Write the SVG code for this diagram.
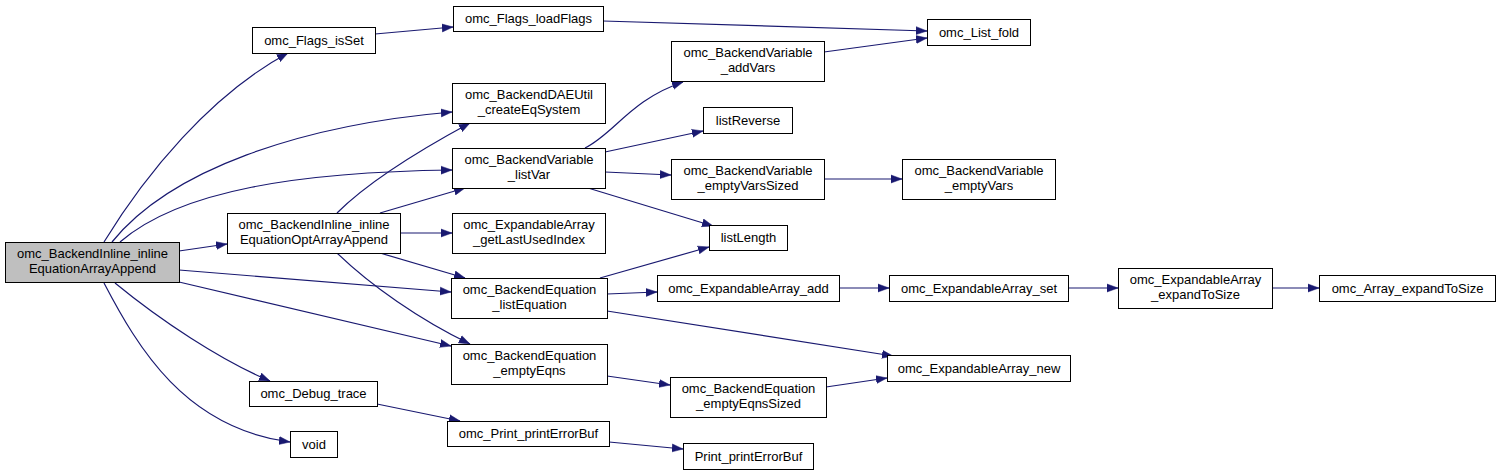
<svg xmlns="http://www.w3.org/2000/svg" width="1500" height="475" viewBox="0 0 1500 475">
<style>
.n rect{fill:#ffffff;stroke:#000000;stroke-width:1}
.n.main rect{fill:#bfbfbf}
.n text{font-family:"Liberation Sans",Arial,sans-serif;font-size:13px;fill:#000000;text-anchor:middle}
.e path{fill:none;stroke:#191970;stroke-width:1.2;marker-end:url(#ah)}
</style>
<defs>
<marker id="ah" markerUnits="userSpaceOnUse" markerWidth="12" markerHeight="10" refX="11" refY="4" orient="auto" viewBox="0 0 12 8">
<polygon points="0,0 11,4 0,8" fill="#191970" stroke="#191970" stroke-width="0.5"/>
</marker>
</defs>
<rect width="1500" height="475" fill="#ffffff"/>
<g id="edges" class="e">
<path d="M104,242 C145,175 210,95 288,53"/>
<path d="M112,242 C170,170 300,125 452,112"/>
<path d="M120,242 C180,190 300,172 452,170"/>
<path d="M179,251 L227,244"/>
<path d="M179,270 L451,292"/>
<path d="M179,282 L451,346"/>
<path d="M115,283 C160,320 220,360 270,381"/>
<path d="M104,283 C138,348 185,428 290,442"/>
<path d="M375,34 L453,27"/>
<path d="M603,21 L927,31"/>
<path d="M824,52 L927,38"/>
<path d="M337,213 C370,180 420,150 470,123"/>
<path d="M380,213 L465,188"/>
<path d="M400,233 L452,233"/>
<path d="M380,253 L465,278"/>
<path d="M337,253 C370,285 420,320 470,344"/>
<path d="M585,148 C615,133 630,100 683,82"/>
<path d="M605,152 L703,131"/>
<path d="M605,172 L671,175"/>
<path d="M588,188 L713,226"/>
<path d="M824,179 L902,179"/>
<path d="M600,278 L709,247"/>
<path d="M607,294 L657,292"/>
<path d="M607,311 L893,356"/>
<path d="M607,376 L670,385"/>
<path d="M826,387 L887,378"/>
<path d="M839,288 L889,288"/>
<path d="M1068,288 L1118,288"/>
<path d="M1272,288 L1319,288"/>
<path d="M377,404 L460,421"/>
<path d="M609,442 L683,449"/>
</g>
<g id="n_main" class="n main"><rect x="5.5" y="242.5" width="174" height="40"/><text x="92.5" y="258">omc_BackendInline_inline</text><text x="92.5" y="273">EquationArrayAppend</text></g>
<g id="n_flags_isset" class="n"><rect x="252.5" y="27.5" width="123" height="26"/><text x="314" y="45">omc_Flags_isSet</text></g>
<g id="n_optarrayappend" class="n"><rect x="227.5" y="213.5" width="173" height="40"/><text x="314" y="229">omc_BackendInline_inline</text><text x="314" y="244">EquationOptArrayAppend</text></g>
<g id="n_debug_trace" class="n"><rect x="249.5" y="381.5" width="128" height="25"/><text x="313.5" y="398">omc_Debug_trace</text></g>
<g id="n_void" class="n"><rect x="290.5" y="431.5" width="47" height="26"/><text x="314" y="449">void</text></g>
<g id="n_flags_loadflags" class="n"><rect x="453.5" y="6.5" width="150" height="25"/><text x="528.5" y="23">omc_Flags_loadFlags</text></g>
<g id="n_createeqsystem" class="n"><rect x="452.5" y="83.5" width="153" height="40"/><text x="529" y="99">omc_BackendDAEUtil</text><text x="529" y="114">_createEqSystem</text></g>
<g id="n_listvar" class="n"><rect x="452.5" y="148.5" width="153" height="40"/><text x="529" y="164">omc_BackendVariable</text><text x="529" y="179">_listVar</text></g>
<g id="n_getlastusedindex" class="n"><rect x="452.5" y="213.5" width="153" height="40"/><text x="529" y="229">omc_ExpandableArray</text><text x="529" y="244">_getLastUsedIndex</text></g>
<g id="n_listequation" class="n"><rect x="451.5" y="278.5" width="156" height="40"/><text x="529.5" y="294">omc_BackendEquation</text><text x="529.5" y="309">_listEquation</text></g>
<g id="n_emptyeqns" class="n"><rect x="451.5" y="344.5" width="156" height="40"/><text x="529.5" y="360">omc_BackendEquation</text><text x="529.5" y="375">_emptyEqns</text></g>
<g id="n_omc_print_printerrorbuf" class="n"><rect x="447.5" y="421.5" width="162" height="25"/><text x="528.5" y="438">omc_Print_printErrorBuf</text></g>
<g id="n_addvars" class="n"><rect x="671.5" y="41.5" width="153" height="40"/><text x="748" y="57">omc_BackendVariable</text><text x="748" y="72">_addVars</text></g>
<g id="n_listreverse" class="n"><rect x="703.5" y="107.5" width="89" height="26"/><text x="748" y="125">listReverse</text></g>
<g id="n_emptyvarssized" class="n"><rect x="671.5" y="159.5" width="153" height="40"/><text x="748" y="175">omc_BackendVariable</text><text x="748" y="190">_emptyVarsSized</text></g>
<g id="n_listlength" class="n"><rect x="709.5" y="225.5" width="78" height="25"/><text x="748.5" y="242">listLength</text></g>
<g id="n_expandablearray_add" class="n"><rect x="657.5" y="275.5" width="182" height="26"/><text x="748.5" y="293">omc_ExpandableArray_add</text></g>
<g id="n_emptyeqnssized" class="n"><rect x="670.5" y="377.5" width="156" height="40"/><text x="748.5" y="393">omc_BackendEquation</text><text x="748.5" y="408">_emptyEqnsSized</text></g>
<g id="n_print_printerrorbuf" class="n"><rect x="683.5" y="443.5" width="130" height="26"/><text x="748.5" y="461">Print_printErrorBuf</text></g>
<g id="n_list_fold" class="n"><rect x="927.5" y="19.5" width="103" height="26"/><text x="979" y="37">omc_List_fold</text></g>
<g id="n_emptyvars" class="n"><rect x="902.5" y="159.5" width="153" height="40"/><text x="979" y="175">omc_BackendVariable</text><text x="979" y="190">_emptyVars</text></g>
<g id="n_expandablearray_set" class="n"><rect x="889.5" y="275.5" width="179" height="26"/><text x="979" y="293">omc_ExpandableArray_set</text></g>
<g id="n_expandablearray_new" class="n"><rect x="887.5" y="355.5" width="183" height="26"/><text x="979" y="373">omc_ExpandableArray_new</text></g>
<g id="n_expandtosize" class="n"><rect x="1118.5" y="268.5" width="154" height="40"/><text x="1195.5" y="284">omc_ExpandableArray</text><text x="1195.5" y="299">_expandToSize</text></g>
<g id="n_array_expandtosize" class="n"><rect x="1319.5" y="275.5" width="176" height="26"/><text x="1407.5" y="293">omc_Array_expandToSize</text></g>
</svg>
